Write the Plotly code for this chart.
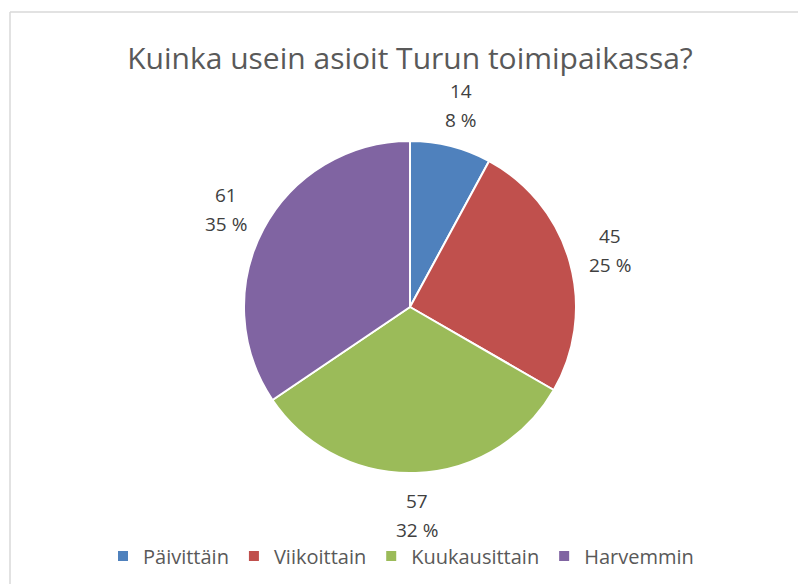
import math
import plotly.graph_objects as go

categories = ["Päivittäin", "Viikoittain", "Kuukausittain", "Harvemmin"]
values = [14, 45, 57, 61]
colors = ["#4F81BD", "#C0504D", "#9BBB59", "#8064A2"]
title_text = "Kuinka usein asioit Turun toimipaikassa?"

W, H = 798, 584
cx, cy, R = 410, 307, 166  # pie centre / radius in pixels (from top-left)

# percentages rounded with largest-remainder so they sum to 100 (as Excel shows)
total = sum(values)
raw = [v / total * 100 for v in values]
floors = [math.floor(r) for r in raw]
rest = 100 - sum(floors)
order = sorted(range(len(raw)), key=lambda i: raw[i] - floors[i], reverse=True)
for i in order[:rest]:
    floors[i] += 1
pct_labels = [f"{p} %" for p in floors]

fig = go.Figure()
fig.add_trace(go.Pie(
    labels=categories,
    values=values,
    marker=dict(colors=colors, line=dict(color="white", width=2)),
    sort=False,
    direction="clockwise",
    rotation=0,
    textinfo="none",
    hoverinfo="label+value+percent",
    domain=dict(x=[(cx - R) / W, (cx + R) / W],
                y=[(H - cy - R) / H, (H - cy + R) / H]),
    showlegend=True,
))

# data labels placed outside each slice at its mid angle (two lines each)
annotations = []
cum = 0
label_r = R * 1.255
line_gap = 29
label_font = dict(family="Open Sans", size=19, color="#404040")
for v, p in zip(values, pct_labels):
    mid = (cum + v / 2) / total * 2 * math.pi
    cum += v
    px = cx + label_r * math.sin(mid)
    py = cy - label_r * math.cos(mid)
    for txt, dy in ((str(v), -line_gap / 2), (p, line_gap / 2)):
        annotations.append(dict(
            x=px / W, y=1 - (py + dy) / H, xref="paper", yref="paper",
            text=txt, showarrow=False,
            xanchor="center", yanchor="middle", align="center",
            font=label_font,
        ))

fig.update_layout(
    width=W, height=H,
    margin=dict(l=0, r=0, t=0, b=0),
    paper_bgcolor="white",
    plot_bgcolor="white",
    title=dict(text=title_text, x=410 / W, xanchor="center",
               y=1 - 58 / H, yanchor="middle",
               font=dict(family="Open Sans", size=30, color="#595959")),
    legend=dict(orientation="h", x=401 / W, xanchor="center",
                y=1 - 556 / H, yanchor="middle",
                font=dict(family="Open Sans", size=20, color="#595959"),
                traceorder="normal", itemclick=False),
    annotations=annotations,
    shapes=[
        dict(type="line", xref="paper", yref="paper",
             x0=10 / W, x1=1, y0=1 - 12 / H, y1=1 - 12 / H,
             line=dict(color="#D9D9D9", width=1.5)),
        dict(type="line", xref="paper", yref="paper",
             x0=10 / W, x1=10 / W, y0=0, y1=1 - 12 / H,
             line=dict(color="#D9D9D9", width=1.5)),
    ],
)

fig.write_html("out.html", config={"displayModeBar": False},
               post_script="document.body.style.margin='0';")
